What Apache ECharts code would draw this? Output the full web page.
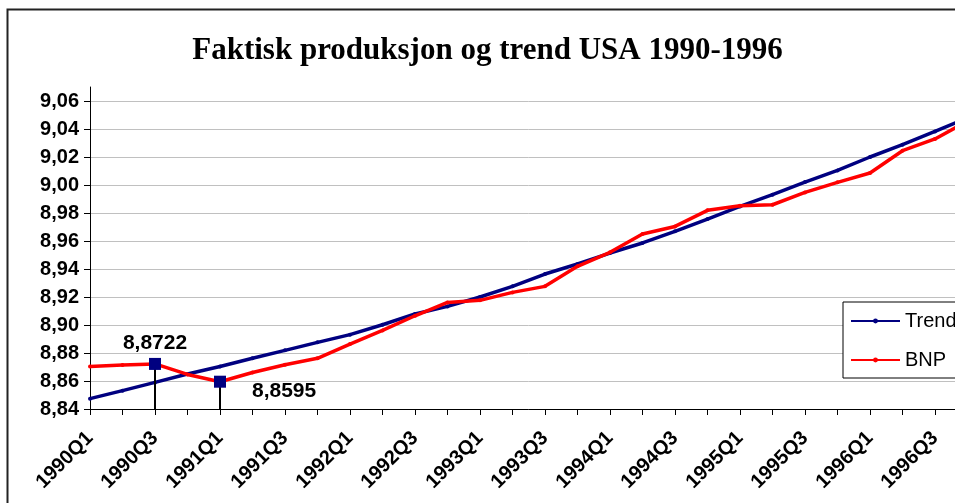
<!DOCTYPE html>
<html>
<head>
<meta charset="utf-8">
<script src="https://cdn.jsdelivr.net/npm/echarts@6/dist/echarts.min.js"></script>
<style>
  html, body { margin: 0; padding: 0; overflow: hidden; background: #fff; width: 955px; height: 503px; }
  #chart { position: absolute; left: 0; top: 0; width: 975px; height: 503px; }
</style>
</head>
<body>
<div id="chart"></div>
<script>
// Quarterly log GDP (BNP) for the USA against its trend, 1990–1996
const quarters = [
  '1990Q1','1990Q2','1990Q3','1990Q4','1991Q1','1991Q2','1991Q3','1991Q4',
  '1992Q1','1992Q2','1992Q3','1992Q4','1993Q1','1993Q2','1993Q3','1993Q4',
  '1994Q1','1994Q2','1994Q3','1994Q4','1995Q1','1995Q2','1995Q3','1995Q4',
  '1996Q1','1996Q2','1996Q3','1996Q4'
];
const trend = [
  8.8474, 8.8531, 8.8590, 8.8650, 8.8704, 8.8762, 8.8819, 8.8876,
  8.8931, 8.9002, 8.9079, 8.9133, 8.9200, 8.9276, 8.9364, 8.9436,
  8.9514, 8.9586, 8.9669, 8.9757, 8.9847, 8.9931, 9.0021, 9.0104,
  9.0200, 9.0288, 9.0383, 9.0480
];
const bnp = [
  8.8704, 8.8715, 8.8722, 8.8647, 8.8595, 8.8661, 8.8716, 8.8762,
  8.8864, 8.8961, 8.9066, 8.9161, 8.9176, 8.9233, 8.9276, 8.9419,
  8.9519, 8.9650, 8.9704, 8.9819, 8.9852, 8.9859, 8.9947, 9.0019,
  9.0086, 9.0245, 9.0329, 9.0456
];
// Peak and trough of the 1990–91 downturn
const markedQuarters = ['1990Q3', '1991Q1'];
const markedValues = [8.8722, 8.8595];

const yMin = 8.84, yMax = 9.07, yStep = 0.02;

const sans = 'Liberation Sans, Arial, sans-serif';
const comma = (v, d) => v.toFixed(d).replace('.', ',');

const chart = echarts.init(document.getElementById('chart'));

chart.setOption({
  animation: false,
  backgroundColor: '#fff',
  title: {
    text: 'Faktisk produksjon og trend USA 1990-1996',
    left: 'center',
    top: 30,
    textStyle: { fontFamily: 'Liberation Serif, Times New Roman, serif', fontWeight: 'bold', fontSize: 31, color: '#000' }
  },
  graphic: [{
    type: 'rect',
    shape: { x: 7.5, y: 9.5, width: 1200, height: 800 },
    style: { fill: 'none', stroke: '#222', lineWidth: 2 },
    silent: true,
    z: 100
  }],
  legend: {
    data: ['Trend', 'BNP'],
    orient: 'vertical',
    left: 843,
    top: 302,
    backgroundColor: '#fff',
    borderColor: '#000',
    borderWidth: 1,
    borderRadius: 0,
    padding: [9, 14, 8, 7],
    itemWidth: 49,
    itemHeight: 6,
    itemGap: 19,
    textStyle: { fontFamily: sans, fontSize: 20, color: '#000' }
  },
  grid: { left: 90, right: 7.5, top: 87, bottom: 94, containLabel: false },
  xAxis: {
    type: 'category',
    data: quarters,
    boundaryGap: false,
    axisLine: { lineStyle: { color: '#000', width: 1 } },
    axisTick: { show: true, interval: 0, length: 6, lineStyle: { color: '#000' } },
    axisLabel: {
      interval: 1,
      rotate: 45,
      margin: 26,
      fontFamily: sans,
      fontWeight: 'bold',
      fontSize: 20,
      color: '#000'
    },
    splitLine: { show: false }
  },
  yAxis: {
    type: 'value',
    min: yMin,
    max: yMax,
    interval: yStep,
    axisLine: { show: true, lineStyle: { color: '#000', width: 1 } },
    axisTick: { show: true, length: 6, lineStyle: { color: '#000' } },
    axisLabel: {
      showMaxLabel: false,
      margin: 11,
      fontFamily: sans,
      fontWeight: 'bold',
      fontSize: 20,
      color: '#000',
      formatter: v => comma(v, 2)
    },
    splitLine: { show: true, showMaxLine: false, lineStyle: { color: '#c0c0c0', width: 1 } }
  },
  series: [
    {
      name: 'Trend',
      type: 'line',
      data: trend,
      symbol: 'circle',
      symbolSize: 4,
      showAllSymbol: true,
      lineStyle: { color: '#000080', width: 3.5 },
      itemStyle: { color: '#000080' },
      z: 2
    },
    {
      name: 'BNP',
      type: 'line',
      data: bnp,
      symbol: 'circle',
      symbolSize: 4,
      showAllSymbol: true,
      lineStyle: { color: '#ff0000', width: 3.5 },
      itemStyle: { color: '#ff0000' },
      z: 3
    },
    {
      name: 'Markert',
      type: 'scatter',
      data: markedQuarters.map((q, i) => ({
        value: [q, markedValues[i]],
        label: i === 0
          ? { position: 'top', distance: 4 }
          : { position: 'right', distance: 26, offset: [0, 10] }
      })),
      symbol: 'rect',
      symbolSize: 12,
      itemStyle: { color: '#000080', opacity: 1 },
      label: {
        show: true,
        fontFamily: sans,
        fontWeight: 'bold',
        fontSize: 21,
        color: '#000',
        formatter: p => comma(p.value[1], 4)
      },
      markLine: {
        silent: true,
        symbol: 'none',
        label: { show: false },
        lineStyle: { color: '#000', width: 2, type: 'solid', opacity: 1 },
        data: markedQuarters.map((q, i) => [
          { coord: [q, markedValues[i]] },
          { coord: [q, yMin] }
        ])
      },
      z: 5
    }
  ]
});
</script>
</body>
</html>
